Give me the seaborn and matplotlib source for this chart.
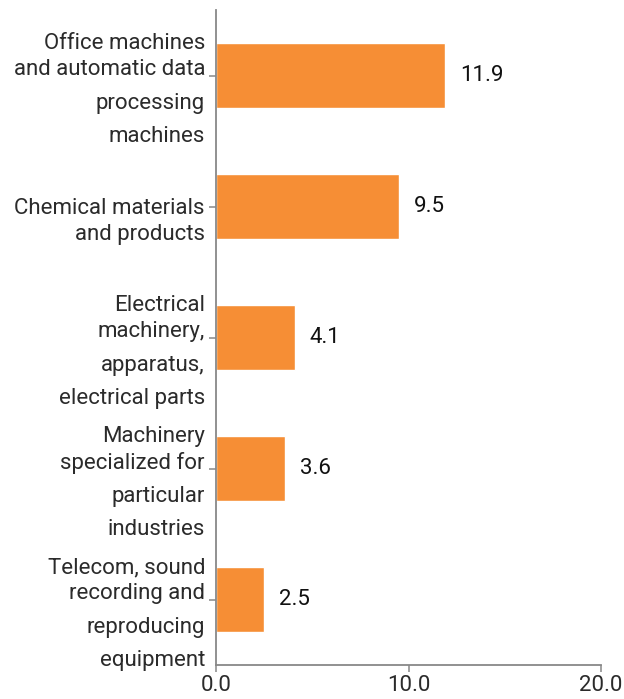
import numpy as np
import pandas as pd
import seaborn as sns
import matplotlib.pyplot as plt

categories = [
    "Office machines and automatic data processing machines",
    "Chemical materials and products",
    "Electrical machinery, apparatus, electrical parts",
    "Machinery specialized for particular industries",
    "Telecom, sound recording and reproducing equipment",
]
label_lines = [
    ["Office machines", "and automatic data", "processing", "machines"],
    ["Chemical materials", "and products"],
    ["Electrical", "machinery,", "apparatus,", "electrical parts"],
    ["Machinery", "specialized for", "particular", "industries"],
    ["Telecom, sound", "recording and", "reproducing", "equipment"],
]
values = [11.9, 9.5, 4.1, 3.6, 2.5]
x_ticks = [0, 10, 20]

sns.set_theme(style="white")
plt.rcParams['font.family'] = ['Roboto', 'DejaVu Sans']

df = pd.DataFrame({"category": categories, "value": values})

fig = plt.figure(figsize=(6.24, 6.99), dpi=100)
ax = fig.add_axes([216 / 624, 34 / 699, 385 / 624, 655 / 699])

sns.barplot(data=df, x="value", y="category", orient="h", color="#F68E35",
            saturation=1, width=0.49, ax=ax)

ax.set_xlim(0, 20)
ax.set_ylim(4.5, -0.5)
ax.set_xticks(x_ticks)
ax.set_xticklabels([f"{t:.1f}" for t in x_ticks], fontsize=16, color="#2b2b2b")
ax.set_yticks(range(len(categories)))
ax.set_yticklabels([""] * len(categories))
ax.set_xlabel("")
ax.set_ylabel("")

for s in ["top", "right"]:
    ax.spines[s].set_visible(False)
for s in ["left", "bottom"]:
    ax.spines[s].set_color("#888888")
    ax.spines[s].set_linewidth(1.3)
ax.tick_params(axis="both", which="both", length=5, width=1.1, color="#888888",
               left=True, bottom=True, pad=2)

# multi-line category labels (px offsets from the tick, down positive)
offsets = {4: [-32, -6, 28, 61], 2: [2, 28]}
px2pt = 72 / 100
for i, lines in enumerate(label_lines):
    for line, off in zip(lines, offsets[len(lines)]):
        ax.annotate(line, xy=(0, i), xycoords=("axes fraction", "data"),
                    xytext=(-11 * px2pt, -off * px2pt), textcoords="offset points",
                    ha="right", va="center", fontsize=16, color="#2b2b2b",
                    annotation_clip=False)

for i, v in enumerate(values):
    ax.annotate(f"{v:.1f}", xy=(v, i), xytext=(15 * px2pt, 0),
                textcoords="offset points", ha="left", va="center",
                fontsize=16, color="#111111")

fig.savefig("out.png", dpi=100)
